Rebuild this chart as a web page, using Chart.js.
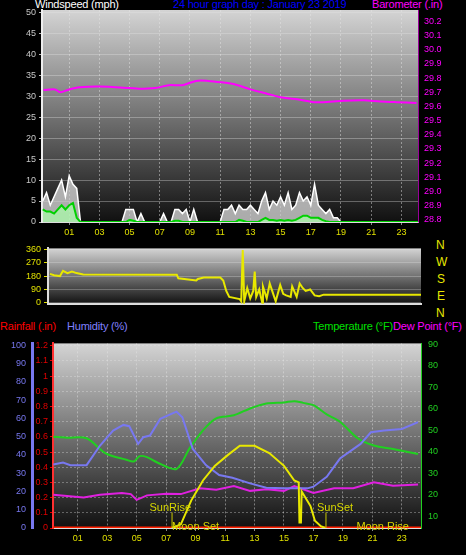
<!DOCTYPE html>
<html>
<head>
<meta charset="utf-8">
<script src="https://cdn.jsdelivr.net/npm/chart.js@4"></script>
<style>
  body { margin: 0; background: #000; width: 466px; height: 555px; overflow: hidden; font-family: "Liberation Sans", Arial, sans-serif; }
  canvas { position: absolute; left: 0; }
  .t { position: absolute; font-size: 11px; white-space: nowrap; letter-spacing: -0.2px; }
</style>
</head>
<body>
<div class="t" style="left:35px;top:-2px;color:#fff">Windspeed (mph)</div>
<div class="t" style="left:173px;top:-2px;color:#0000ff">24 hour graph day : January 23 2019</div>
<div class="t" style="left:372px;top:-2px;color:#ff00ff">Barometer (.in)</div>
<div class="t" style="left:436px;top:238px;color:#e8e800;font-size:12px">N</div>
<div class="t" style="left:436px;top:255px;color:#e8e800;font-size:12px">W</div>
<div class="t" style="left:437px;top:272px;color:#e8e800;font-size:12px">S</div>
<div class="t" style="left:437px;top:289px;color:#e8e800;font-size:12px">E</div>
<div class="t" style="left:436px;top:306px;color:#e8e800;font-size:12px">N</div>
<div class="t" style="left:0px;top:320px;color:#ff0000">Rainfall (.in)</div>
<div class="t" style="left:67px;top:320px;color:#8080ff">Humidity (%)</div>
<div class="t" style="left:313px;top:320px;color:#00e000">Temperature (°F)</div>
<div class="t" style="left:393px;top:320px;color:#ff00ff">Dew Point (°F)</div>

<canvas id="wind" style="top:0" width="466" height="240"></canvas>
<canvas id="dir" style="top:240px" width="466" height="80"></canvas>
<canvas id="main" style="top:335px" width="466" height="220"></canvas>
<script>
// --- DATA ---
// wind, every quarter hour starting at -0.75h
const windStart = -0.75;
const windGust = [5,7,4,6,8,10,6,11,9,8,0, 0,0,0,0,0,0,0,0,0,0,0, 3,3,3,0,2,0, 0,0,0,0, 2,0,0,3,3,2,3,0,3,
  0,0,0,0,0,0,0, 3,3,4,2,4,3,3,4,3,2,5,7,3,5,4,6,4,7,3,4,7,5,6,4,9,4,3,2,3,1,1,0,
  0,0,0,0,0,0,0,0,0,0,0,0,0,0,0,0,0,0,0,0,0,0,0];
const windAvg = [3,2.5,2.5,2,3,4,3,4,4.5,1,0, 0,0,0,0,0,0,0,0,0,0,0, 0,0.5,0.3,0,0,0, 0,0,0,0, 0,0,0,0.3,0.3,0,0,0,0,
  0,0,0,0,0,0,0, 0,0,0,0,0.5,0.3,0,0,0,0,0.5,1,0.5,0.5,0.3,0.5,0.3,0.5,0.3,0.5,1,1.5,1.5,1,1,1,0.5,0.2,0,0,0,
  0,0,0,0,0,0,0,0,0,0,0,0,0,0,0,0,0,0,0,0,0,0,0];

const baroHours = [-0.7,0.06,0.4,1.0,1.7,3.0,5.0,5.6,6.7,7.6,8.5,9.4,10.2,11.1,12.0,13.0,14.1,15.0,16.1,17.2,17.8,19.2,20.5,21.6,22.7,24.0];
const baroValues = [29.715,29.72,29.70,29.72,29.735,29.74,29.73,29.725,29.73,29.75,29.75,29.78,29.78,29.77,29.755,29.72,29.69,29.665,29.65,29.63,29.63,29.64,29.643,29.635,29.63,29.625];

const dirHours = [-0.67,-0.4,0,0.2,0.5,0.8,1.1,1.55,7.8,7.9,9.1,9.2,9.6,10.7,10.9,11.1,11.3,12.0,12.1,12.2,12.3,12.5,12.7,12.9,13.0,13.1,13.3,13.5,13.55,13.8,14.0,14.2,14.4,14.7,14.9,15.1,15.4,15.5,15.8,16.0,16.2,16.4,16.7,17.0,17.3,17.6,24.1];
const dirValues = [195,185,180,215,200,210,200,190,188,165,150,160,170,170,150,80,40,25,10,355,10,100,30,80,210,40,90,0,110,30,130,70,10,120,60,50,40,110,40,130,100,80,90,50,45,55,55];

const tempHours = [-0.66,0.25,1.6,2.9,4.3,4.8,5.2,5.7,6.4,7.7,8.6,9.5,10.4,11.6,12.7,13.8,15.0,15.7,16.3,17.0,17.9,18.8,20.0,21.1,22.4,24.1];
const tempValues = [47,46.6,46.3,39.3,36.3,35.5,38,37.5,35,32,41.7,50,55.6,57,60.2,62.5,63,63.6,62.8,61.7,57.4,54,46.3,42.9,41.3,39];

const humHours = [-0.66,0,0.5,1.6,2.5,3.4,4.1,4.5,5.1,5.45,5.9,6.6,7.7,8.1,8.8,9.7,10.6,11.5,12.7,13.8,15.0,16.6,17.0,17.9,18.8,20.2,20.9,21.8,23.0,24.1];
const humValues = [34.7,35.8,34.4,34.4,45,53.3,56.4,55.7,46,49.7,50.6,59.7,63.7,60.6,43.4,34.4,29,27.5,24.4,22,21.7,21.7,22.6,28,38,46,52.4,53.3,54.2,57.9];

const dewHours = [-0.66,1.4,2.5,4.0,4.6,5.0,5.7,7.0,8.0,9.3,10.4,11.6,12.7,13.8,15.0,15.7,17.0,18.4,19.7,21.1,22.4,24.1];
const dewValues = [20,18.7,20,20.8,20.3,17.6,19.7,20.5,20.3,23,22.3,24,21.8,22.5,21.8,24,20.8,23,23,25.8,24.2,24.8];

const solarHours = [7.4,8.0,8.7,9.5,10.3,11.2,12.0,13.0,14.0,15.0,15.7,16.0,16.05,16.15,16.2,16.8,17.1,17.5,17.8];
const solarValues = [0,2,15,26,34,40,45,45,41,34,26,25,3,3,20,12,4,1,0];

const rainHours = [-0.7,24.3];
const rainValues = [0,0];

const sunEvents = [["SunRise", 7.4], ["SunSet", 17.85]];
const moonEvents = [["Moon Set", 9.0], ["Moon Rise", 21.7]];

const hourTicks = [1,3,5,7,9,11,13,15,17,19,21,23];

// --- HELPERS ---
const pts = (xs, ys) => xs.map((x, i) => ({ x: x, y: ys[i] }));
const windPts = (vals) => vals.map((v, i) => ({ x: windStart + 0.25 * i, y: v }));
const hourLabel = (v) => String(v).padStart(2, "0");
const tickFont = { family: "Liberation Sans", size: 9 };

// plot area background gradient
const bgPlugin = {
  id: "bg",
  beforeDraw(chart) {
    const a = chart.chartArea, c = chart.ctx;
    const g = c.createLinearGradient(0, a.top, 0, a.bottom);
    g.addColorStop(0, "#d4d4d4");
    g.addColorStop(1, "#101010");
    c.save();
    c.fillStyle = g;
    c.fillRect(a.left, a.top, a.right - a.left, a.bottom - a.top);
    c.restore();
  },
};

function xAxis(min, max, display) {
  return {
    type: "linear", min: min, max: max,
    display: display,
    afterBuildTicks: (ax) => { ax.ticks = hourTicks.map((v) => ({ value: v })); },
    ticks: { color: "#e0e000", font: tickFont, callback: hourLabel, padding: 2 },
    grid: { color: "rgba(230,230,230,0.45)", tickLength: 3, tickColor: "#888" },
    border: { color: "#ddd", dash: [2, 2] },
  };
}

// --- WIND / BAROMETER ---
new Chart(document.getElementById("wind"), {
  type: "line",
  plugins: [bgPlugin],
  data: {
    datasets: [
      { data: windPts(windAvg), yAxisID: "y", borderColor: "#00d000", borderWidth: 2, backgroundColor: "rgba(170,255,170,0.7)", fill: "origin", order: 1 },
      { data: windPts(windGust), yAxisID: "y", borderColor: "#ffffff", borderWidth: 1.5, backgroundColor: "rgba(210,210,210,0.8)", fill: "origin", order: 2 },
      { data: pts(baroHours, baroValues), yAxisID: "baro", borderColor: "#ff00ff", borderWidth: 2, tension: 0.3 },
    ],
  },
  options: {
    responsive: false, animation: false,
    layout: { padding: { top: 10 } },
    elements: { point: { radius: 0 }, line: { tension: 0 } },
    plugins: { legend: { display: false }, tooltip: { enabled: false } },
    scales: {
      x: Object.assign(xAxis(-0.8, 24.1, true), { afterFit: (ax) => { ax.height = 18; } }),
      y: {
        min: 0, max: 50.5, position: "left",
        afterBuildTicks: (ax) => { ax.ticks = [0,5,10,15,20,25,30,35,40,45,50].map((v) => ({ value: v })); },
        afterFit: (ax) => { ax.width = 42; },
        ticks: { color: "#c8c8c8", font: tickFont, padding: 3 },
        grid: { color: "rgba(230,230,230,0.35)", tickLength: 3, tickColor: "#bbb" },
        border: { color: "#eee", width: 2 },
      },
      baro: {
        min: 28.785, max: 30.28, position: "right",
        afterBuildTicks: (ax) => {
          const t = [];
          for (let v = 28.8; v <= 30.21; v += 0.1) t.push({ value: Math.round(v * 10) / 10 });
          ax.ticks = t;
        },
        afterFit: (ax) => { ax.width = 48; },
        ticks: { color: "#ff00ff", font: tickFont, padding: 3 },
        grid: { display: false, drawTicks: true, tickColor: "#ff00ff", tickLength: 3 },
        border: { color: "rgba(255,0,255,0.6)", width: 1, dash: [1, 2] },
      },
    },
  },
});

// --- WIND DIRECTION ---
new Chart(document.getElementById("dir"), {
  type: "line",
  plugins: [bgPlugin],
  data: {
    datasets: [
      { data: pts(dirHours, dirValues), borderColor: "#e8e800", borderWidth: 2 },
    ],
  },
  options: {
    responsive: false, animation: false,
    layout: { padding: { top: 5, bottom: 8, right: 45 } },
    elements: { point: { radius: 0 }, line: { tension: 0 } },
    plugins: { legend: { display: false }, tooltip: { enabled: false } },
    scales: {
      x: Object.assign(xAxis(-0.8, 24.1, true), { ticks: { display: false }, grid: { display: false }, border: { color: "#ddd", width: 2 } }),
      y: {
        min: -8, max: 366,
        afterBuildTicks: (ax) => { ax.ticks = [0,90,180,270,360].map((v) => ({ value: v })); },
        afterFit: (ax) => { ax.width = 48; },
        ticks: { color: "#e0e000", font: tickFont, padding: 3 },
        grid: { color: "rgba(230,230,230,0.3)", tickLength: 4, tickColor: "#e0e000" },
        border: { color: "#ddd", width: 2 },
      },
    },
  },
});

// --- RAIN / HUMIDITY / TEMPERATURE ---
const eventLabels = {
  id: "events",
  afterDatasetsDraw(chart) {
    const c = chart.ctx, x = chart.scales.x, y = chart.scales.hum;
    c.save();
    c.font = "11px Liberation Sans";
    c.fillStyle = "#d8d800";
    c.strokeStyle = "#c8c800";
    c.textBaseline = "middle";
    sunEvents.forEach(([name, h]) => {
      const px = x.getPixelForValue(h);
      c.beginPath();
      c.moveTo(px, y.getPixelForValue(0));
      c.lineTo(px, y.getPixelForValue(8.5));
      c.stroke();
      c.textAlign = name === "SunRise" ? "right" : "left";
      c.fillText(name, name === "SunRise" ? px + 19 : px - 9, y.getPixelForValue(11));
    });
    c.textAlign = "center";
    moonEvents.forEach(([name, h]) => {
      c.fillText(name, x.getPixelForValue(h), y.getPixelForValue(0) - 1);
    });
    c.restore();
  },
};

new Chart(document.getElementById("main"), {
  type: "line",
  plugins: [bgPlugin, eventLabels],
  data: {
    datasets: [
      { data: pts(solarHours, solarValues), yAxisID: "hum", borderColor: "#e8e800", borderWidth: 2 },
      { data: pts(humHours, humValues), yAxisID: "hum", borderColor: "#7878f0", borderWidth: 2 },
      { data: pts(tempHours, tempValues), yAxisID: "temp", borderColor: "#20d020", borderWidth: 2, tension: 0.3 },
      { data: pts(dewHours, dewValues), yAxisID: "temp", borderColor: "#e020e0", borderWidth: 2 },
      { data: pts(rainHours, rainValues), yAxisID: "rain", borderColor: "#ff2000", borderWidth: 3 },
    ],
  },
  options: {
    responsive: false, animation: false,
    layout: { padding: { top: 5 } },
    elements: { point: { radius: 0 }, line: { tension: 0 } },
    plugins: { legend: { display: false }, tooltip: { enabled: false } },
    scales: {
      x: Object.assign(xAxis(-0.68, 24.3, true), { afterFit: (ax) => { ax.height = 27; } }),
      rain: {
        position: "left", min: 0, max: 1.215,
        afterBuildTicks: (ax) => {
          const t = [];
          for (let i = 0; i <= 12; i++) t.push({ value: i / 10 });
          ax.ticks = t;
        },
        afterFit: (ax) => { ax.width = 21; },
        ticks: { color: "#e00000", font: tickFont, padding: 2, callback: (v) => String(Math.round(v * 10) / 10) },
        grid: { color: "rgba(230,230,230,0.35)", tickLength: 3, tickColor: "#e00000" },
        border: { color: "#ff3030", width: 2, dash: [2, 2] },
      },
      hum: {
        position: "left", min: 0, max: 101,
        afterBuildTicks: (ax) => { ax.ticks = [0,10,20,30,40,50,60,70,80,90,100].map((v) => ({ value: v })); },
        afterFit: (ax) => { ax.width = 32; },
        ticks: { color: "#7878f0", font: tickFont, padding: 2 },
        grid: { display: false, drawTicks: true, tickLength: 4, tickColor: "#7878f0" },
        border: { color: "#7878f0", width: 3 },
      },
      temp: {
        position: "right", min: 4.5, max: 90.5,
        afterBuildTicks: (ax) => { ax.ticks = [10,20,30,40,50,60,70,80,90].map((v) => ({ value: v })); },
        afterFit: (ax) => { ax.width = 45; },
        ticks: { color: "#20d020", font: tickFont, padding: 3 },
        grid: { display: false, drawTicks: true, tickLength: 4, tickColor: "#20d020" },
        border: { color: "#20d020", dash: [2, 2] },
      },
    },
  },
});
</script>
</body>
</html>
